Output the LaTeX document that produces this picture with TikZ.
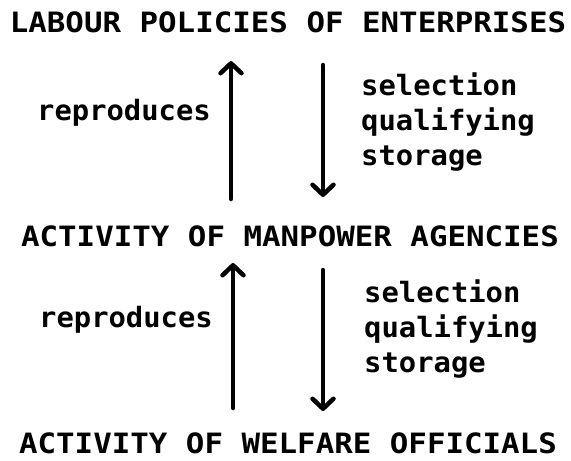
\documentclass[tikz,border=0pt]{standalone}
\usepackage{fontspec}
\newfontfamily\titlefont{DejaVu Sans Mono}[FakeStretch=1.1]
\newfontfamily\lblfont{DejaVu Sans Mono}[FakeStretch=1.03]
\usetikzlibrary{arrows.meta}
\begin{document}
\begin{tikzpicture}[x=1pt,y=-1pt,
  title/.style={font=\titlefont\bfseries\fontsize{28}{28}\selectfont, inner sep=0pt, anchor=base},
  lbl/.style={font=\lblfont\bfseries\fontsize{28}{28}\selectfont, inner sep=0pt},
  flow/.style={line width=4.5pt, line cap=round, -{Straight Barb[length=10pt,width=21pt,round]}}]
\useasboundingbox (0,0) rectangle (571,461);
\node[title] (top) at (288,32) {LABOUR POLICIES OF ENTERPRISES};
\node[title] (mid) at (290,246) {ACTIVITY OF MANPOWER AGENCIES};
\node[title] (bot) at (288,453) {ACTIVITY OF WELFARE OFFICIALS};
\node[lbl, anchor=base east] (rep1) at (211,120) {reproduces};
\node[lbl, anchor=base east] (rep2) at (213,327) {reproduces};
\node[lbl, anchor=base west] (sela) at (361,95) {selection};
\node[lbl, anchor=base west] (qua) at (361,130) {qualifying};
\node[lbl, anchor=base west] (stoa) at (361,165) {storage};
\node[lbl, anchor=base west] (selb) at (364,302) {selection};
\node[lbl, anchor=base west] (qub) at (364,337) {qualifying};
\node[lbl, anchor=base west] (stob) at (364,372) {storage};
\coordinate (u1s) at (231,199);
\coordinate (u1e) at (231,61);
\coordinate (d1s) at (323,65);
\coordinate (d1e) at (323,197);
\coordinate (u2s) at (233,408);
\coordinate (u2e) at (233,263);
\coordinate (d2s) at (323,270);
\coordinate (d2e) at (323,411);
\draw[flow] (u1s) -- (u1e);
\draw[flow] (d1s) -- (d1e);
\draw[flow] (u2s) -- (u2e);
\draw[flow] (d2s) -- (d2e);
\end{tikzpicture}
\end{document}
